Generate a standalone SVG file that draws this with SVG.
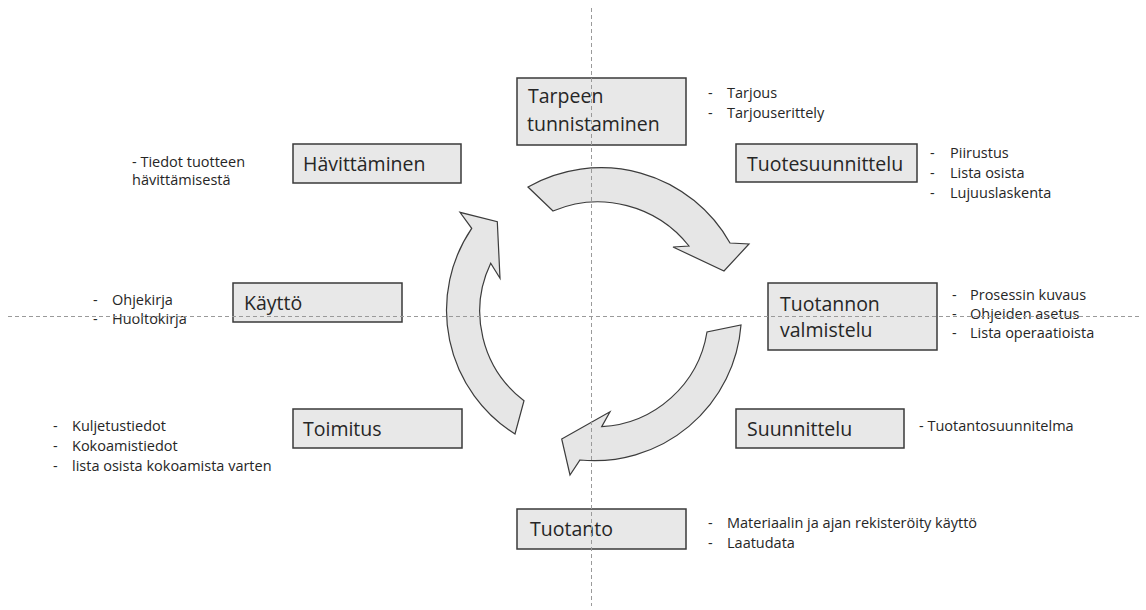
<svg xmlns="http://www.w3.org/2000/svg" width="1146" height="610" viewBox="0 0 1146 610">
<style>
.box{fill:#e8e8e8;stroke:#3a3a3a;stroke-width:1.5}
.lbl{font-family:"Open Sans","Liberation Sans",sans-serif;font-size:19.5px;fill:#262626}
.note{font-family:"Open Sans","Liberation Sans",sans-serif;font-size:14.5px;fill:#262626}
.arr{fill:#e6e6e6;stroke:#3c3c3c;stroke-width:1.2;stroke-linejoin:miter}
.axis{fill:none;stroke:#9a9a9a;stroke-width:1;stroke-dasharray:4 3}
</style>
<rect width="1146" height="610" fill="#ffffff"/>
<g id="connectors">
<path class="arr" d="M528,187 A148,148 0 0 1 730,243 L749,244 L724,271 L673,247 L689,246 A116,116 0 0 0 553,211 Z"/>
<path class="arr" d="M741,325 A147,147 0 0 1 580,460 L570,475 L561.7,439 L610,411.7 L601.7,426.7 A113,113 0 0 0 707,332 Z"/>
<path class="arr" d="M515,434 A146,146 0 0 1 471.7,228.3 L460,212.3 L497.3,221.7 L500,278.3 L490.7,263.3 A112,112 0 0 0 524,400.7 Z"/>
</g>
<g id="tarpeen">
<rect class="box" x="517" y="78" width="169" height="67"/>
<text class="lbl" x="528" y="103">Tarpeen</text>
<text class="lbl" x="527" y="131">tunnistaminen</text>
<text class="note" x="708" y="98">-</text><text class="note" x="727" y="98">Tarjous</text>
<text class="note" x="708" y="118">-</text><text class="note" x="727" y="118">Tarjouserittely</text>
</g>
<g id="havittaminen">
<rect class="box" x="293" y="144" width="168" height="39"/>
<text class="lbl" x="303" y="171">Hävittäminen</text>
<text class="note" x="132" y="166.5">- Tiedot tuotteen</text>
<text class="note" x="132" y="185">hävittämisestä</text>
</g>
<g id="tuotesuunnittelu">
<rect class="box" x="736" y="144" width="181" height="38"/>
<text class="lbl" x="747" y="171">Tuotesuunnittelu</text>
<text class="note" x="930" y="158">-</text><text class="note" x="950" y="158">Piirustus</text>
<text class="note" x="930" y="178">-</text><text class="note" x="950" y="178">Lista osista</text>
<text class="note" x="930" y="198">-</text><text class="note" x="950" y="198">Lujuuslaskenta</text>
</g>
<g id="kaytto">
<rect class="box" x="233" y="283" width="169" height="39"/>
<text class="lbl" x="244" y="310">Käyttö</text>
<text class="note" x="93" y="305">-</text><text class="note" x="112" y="305">Ohjekirja</text>
<text class="note" x="93" y="324">-</text><text class="note" x="112" y="324">Huoltokirja</text>
</g>
<g id="tuotannon-valmistelu">
<rect class="box" x="768" y="283" width="169" height="67"/>
<text class="lbl" x="780" y="311">Tuotannon</text>
<text class="lbl" x="780" y="337">valmistelu</text>
<text class="note" x="952" y="300">-</text><text class="note" x="970" y="300">Prosessin kuvaus</text>
<text class="note" x="952" y="319">-</text><text class="note" x="970" y="319">Ohjeiden asetus</text>
<text class="note" x="952" y="338">-</text><text class="note" x="970" y="338">Lista operaatioista</text>
</g>
<g id="toimitus">
<rect class="box" x="293" y="409" width="169" height="39"/>
<text class="lbl" x="303" y="436">Toimitus</text>
<text class="note" x="53" y="431">-</text><text class="note" x="72" y="431">Kuljetustiedot</text>
<text class="note" x="53" y="451">-</text><text class="note" x="72" y="451">Kokoamistiedot</text>
<text class="note" x="53" y="471">-</text><text class="note" x="72" y="471">lista osista kokoamista varten</text>
</g>
<g id="suunnittelu">
<rect class="box" x="736" y="409" width="168" height="39"/>
<text class="lbl" x="747" y="436">Suunnittelu</text>
<text class="note" x="919" y="431">- Tuotantosuunnitelma</text>
</g>
<g id="tuotanto">
<rect class="box" x="517" y="509" width="169" height="40"/>
<text class="lbl" x="530" y="536">Tuotanto</text>
<text class="note" x="708" y="528">-</text><text class="note" x="727" y="528">Materiaalin ja ajan rekisteröity käyttö</text>
<text class="note" x="708" y="548">-</text><text class="note" x="727" y="548">Laatudata</text>
</g>
<g id="axes">
<line class="axis" x1="591.5" y1="8" x2="591.5" y2="606"/>
<line class="axis" x1="8" y1="316.5" x2="1140" y2="316.5"/>
</g>
</svg>
